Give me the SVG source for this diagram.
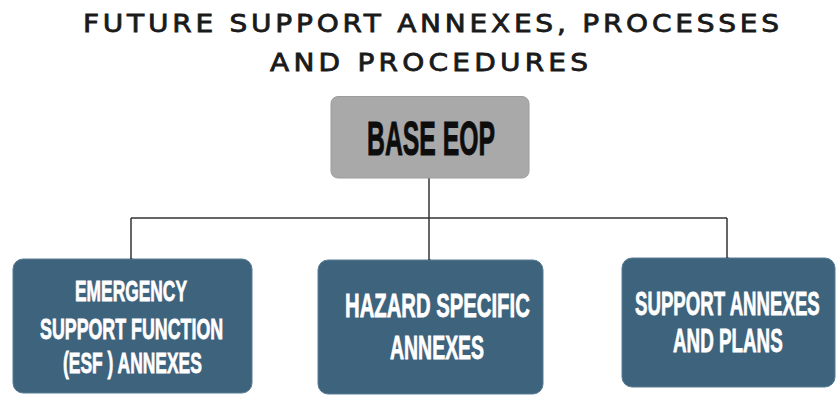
<svg xmlns="http://www.w3.org/2000/svg" width="838" height="397" viewBox="0 0 838 397">
  <defs>
    <marker id="dot" viewBox="0 0 6 6" refX="3" refY="3" markerWidth="3" markerHeight="3" markerUnits="userSpaceOnUse">
      <circle cx="3" cy="3" r="3" fill="#1a1a1a"/>
    </marker>
    <style>
      .title { font-family: "DejaVu Sans", "Noto Sans", sans-serif; font-size: 25px; fill: #1a1a1a; stroke: #1a1a1a; stroke-width: 0.8; }
      .base { fill: #a9a9a9; stroke: #9c9c9c; stroke-width: 1; }
      .base-label { font-family: "Liberation Sans", Arial, sans-serif; font-weight: 700; font-size: 49px; fill: #0d0d0d; stroke: #0d0d0d; stroke-width: 1; }
      .box { fill: #3e637d; stroke: #5a7d95; stroke-width: 1; }
      .label { font-family: "Liberation Sans", Arial, sans-serif; font-weight: 700; font-size: 34px; fill: #ffffff; stroke: #ffffff; stroke-width: 0.8; }
      .label.small { font-size: 30px; }
      .conn { fill: none; stroke: #333333; stroke-width: 1.5; }
    </style>
  </defs>
  <rect width="838" height="397" fill="#ffffff"/>

  <!-- heading: widened, tracked capitals -->
  <g id="title" transform="scale(1.12 1)">
    <text class="title" x="74.1" y="32.5" textLength="621.4" lengthAdjust="spacing">FUTURE SUPPORT ANNEXES, PROCESSES</text>
    <text class="title" x="241.1" y="71.5" textLength="283.9" lengthAdjust="spacing">AND PROCEDURES</text>
  </g>

  <!-- connectors -->
  <g id="connectors">
    <path class="conn" d="M429 178 V218"/>
    <path class="conn" d="M131 218 H727"/>
    <path class="conn" d="M131 218 V259" marker-end="url(#dot)"/>
    <path class="conn" d="M429 218 V260" marker-end="url(#dot)"/>
    <path class="conn" d="M727 218 V258" marker-end="url(#dot)"/>
  </g>

  <!-- root node: condensed bold label, squeezed horizontally -->
  <g id="base-eop">
    <rect class="base" x="331" y="96.5" width="198" height="81.5" rx="7"/>
    <text class="base-label" transform="translate(367 155) scale(0.52 1)" x="0" y="0" textLength="246" lengthAdjust="spacingAndGlyphs">BASE EOP</text>
  </g>

  <!-- child nodes -->
  <g id="esf-annexes">
    <rect class="box" x="13" y="259" width="239" height="134" rx="10"/>
    <text class="label small" transform="translate(75 301) scale(0.56 1)" x="0" y="0" textLength="200" lengthAdjust="spacingAndGlyphs">EMERGENCY</text>
    <text class="label small" transform="translate(40 338.5) scale(0.56 1)" x="0" y="0" textLength="327" lengthAdjust="spacingAndGlyphs">SUPPORT  FUNCTION</text>
    <text class="label small" transform="translate(63 373) scale(0.56 1)" x="0" y="0" textLength="248" lengthAdjust="spacingAndGlyphs">(ESF ) ANNEXES</text>
  </g>

  <g id="hazard-annexes">
    <rect class="box" x="318" y="260" width="225" height="134" rx="10"/>
    <text class="label" transform="translate(345 317) scale(0.56 1)" x="0" y="0" textLength="330" lengthAdjust="spacingAndGlyphs">HAZARD SPECIFIC</text>
    <text class="label" transform="translate(390 359) scale(0.56 1)" x="0" y="0" textLength="168" lengthAdjust="spacingAndGlyphs">ANNEXES</text>
  </g>

  <g id="support-annexes">
    <rect class="box" x="622" y="258" width="213" height="129" rx="10"/>
    <text class="label" transform="translate(635 315) scale(0.56 1)" x="0" y="0" textLength="330" lengthAdjust="spacingAndGlyphs">SUPPORT ANNEXES</text>
    <text class="label" transform="translate(673 352) scale(0.56 1)" x="0" y="0" textLength="196" lengthAdjust="spacingAndGlyphs">AND PLANS</text>
  </g>
</svg>
